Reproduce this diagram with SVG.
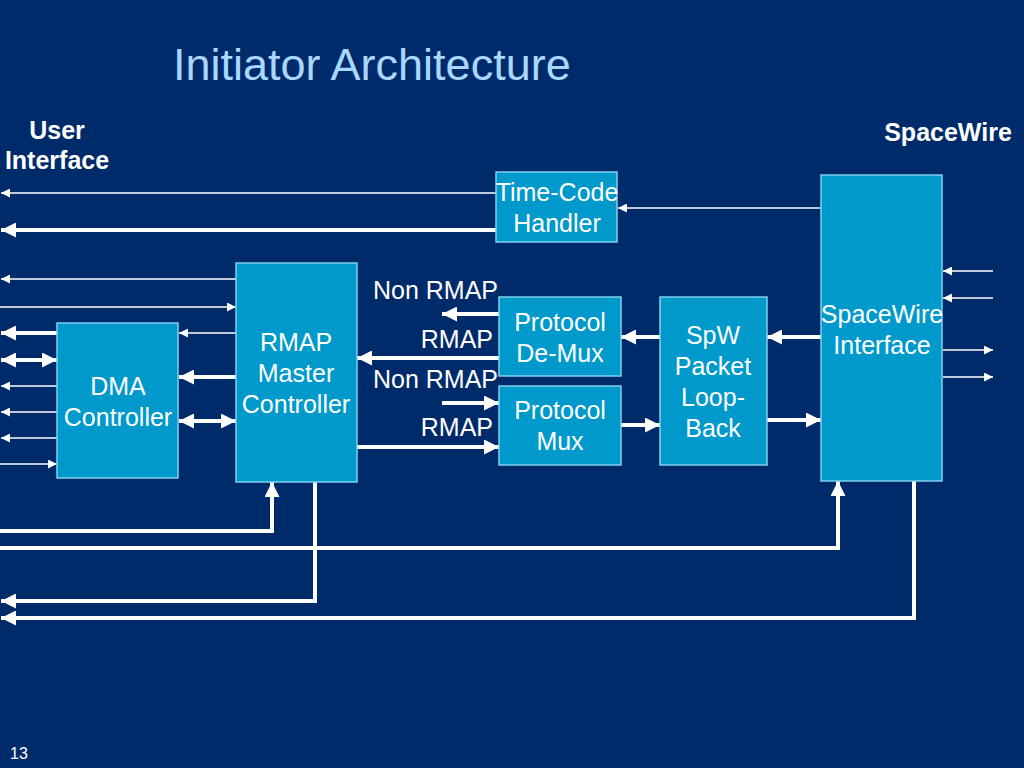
<svg xmlns="http://www.w3.org/2000/svg" width="1024" height="768" viewBox="0 0 1024 768">
<defs>
<style>
.bg{fill:#002B6B}
.box{fill:#0099CC;stroke:#7FD0F0;stroke-width:1.5}
.bt{font-family:"Liberation Sans",Arial,sans-serif;font-size:25px;fill:#FFFFFF;text-anchor:middle}
.lb{font-family:"Liberation Sans",Arial,sans-serif;font-size:25px;fill:#FFFFFF;text-anchor:end}
.hd{font-family:"Liberation Sans",Arial,sans-serif;font-size:25px;font-weight:bold;fill:#FFFFFF;text-anchor:middle}
.thin{stroke:#FFFFFF;stroke-width:1.5;fill:none}
.thick{stroke:#FFFFFF;stroke-width:4;fill:none}
</style>
<marker id="a" viewBox="0 0 10 10" refX="10" refY="5" markerWidth="10" markerHeight="9" markerUnits="userSpaceOnUse" orient="auto-start-reverse"><path d="M0,0 L10,5 L0,10 z" fill="#FFFFFF"/></marker>
<marker id="A" viewBox="0 0 10 10" refX="10" refY="5" markerWidth="15" markerHeight="15" markerUnits="userSpaceOnUse" orient="auto-start-reverse"><path d="M0,0 L10,5 L0,10 z" fill="#FFFFFF"/></marker>
</defs>
<rect class="bg" x="0" y="0" width="1024" height="768"/>
<text x="173" y="80" font-family="'Liberation Sans',Arial,sans-serif" font-size="45" fill="#A8D8FF">Initiator Architecture</text>
<text class="hd" x="57" y="139">User</text>
<text class="hd" x="57" y="169">Interface</text>
<text class="hd" x="948" y="141">SpaceWire</text>
<text x="10" y="759" font-family="'Liberation Sans',Arial,sans-serif" font-size="16" fill="#FFFFFF">13</text>

<g id="connectors">
<line class="thin" x1="496" y1="193" x2="1" y2="193" marker-end="url(#a)"/>
<line class="thick" x1="496" y1="230" x2="1" y2="230" marker-end="url(#A)"/>
<line class="thin" x1="821" y1="208" x2="618" y2="208" marker-end="url(#a)"/>
<line class="thin" x1="236" y1="279" x2="1" y2="279" marker-end="url(#a)"/>
<line class="thin" x1="0" y1="307" x2="236" y2="307" marker-end="url(#a)"/>
<line class="thick" x1="57" y1="333" x2="1" y2="333" marker-end="url(#A)"/>
<line class="thick" x1="1" y1="360" x2="57" y2="360" marker-start="url(#A)" marker-end="url(#A)"/>
<line class="thin" x1="57" y1="386" x2="1" y2="386" marker-end="url(#a)"/>
<line class="thin" x1="57" y1="412" x2="1" y2="412" marker-end="url(#a)"/>
<line class="thin" x1="57" y1="438" x2="1" y2="438" marker-end="url(#a)"/>
<line class="thin" x1="0" y1="464" x2="57" y2="464" marker-end="url(#a)"/>
<line class="thin" x1="236" y1="333" x2="179" y2="333" marker-end="url(#a)"/>
<line class="thick" x1="236" y1="377" x2="179" y2="377" marker-end="url(#A)"/>
<line class="thick" x1="179" y1="421" x2="236" y2="421" marker-start="url(#A)" marker-end="url(#A)"/>
<line class="thick" x1="499" y1="314" x2="442" y2="314" marker-end="url(#A)"/>
<line class="thick" x1="499" y1="358" x2="357" y2="358" marker-end="url(#A)"/>
<line class="thick" x1="442" y1="403" x2="499" y2="403" marker-end="url(#A)"/>
<line class="thick" x1="357" y1="447" x2="499" y2="447" marker-end="url(#A)"/>
<line class="thick" x1="660" y1="337" x2="621" y2="337" marker-end="url(#A)"/>
<line class="thick" x1="821" y1="337" x2="767" y2="337" marker-end="url(#A)"/>
<line class="thick" x1="621" y1="425" x2="660" y2="425" marker-end="url(#A)"/>
<line class="thick" x1="767" y1="420" x2="821" y2="420" marker-end="url(#A)"/>
<line class="thin" x1="993" y1="271" x2="943" y2="271" marker-end="url(#a)"/>
<line class="thin" x1="993" y1="298" x2="943" y2="298" marker-end="url(#a)"/>
<line class="thin" x1="943" y1="350" x2="993" y2="350" marker-end="url(#a)"/>
<line class="thin" x1="943" y1="377" x2="993" y2="377" marker-end="url(#a)"/>
<polyline class="thick" points="0,531 272,531 272,482" marker-end="url(#A)"/>
<polyline class="thick" points="0,548 838,548 838,481" marker-end="url(#A)"/>
<polyline class="thick" points="315,482 315,601 1,601" marker-end="url(#A)"/>
<polyline class="thick" points="914,481 914,618 1,618" marker-end="url(#A)"/>
<text class="lb" x="498" y="299">Non RMAP</text>
<text class="lb" x="493" y="348">RMAP</text>
<text class="lb" x="498" y="388">Non RMAP</text>
<text class="lb" x="493" y="436">RMAP</text>
</g>

<g id="timecode">
<rect class="box" x="496" y="172" width="121" height="70"/>
<text class="bt" x="557" y="201">Time-Code</text>
<text class="bt" x="557" y="232">Handler</text>
</g>
<g id="spacewire">
<rect class="box" x="821" y="175" width="121" height="306"/>
<text class="bt" x="882" y="323">SpaceWire</text>
<text class="bt" x="882" y="354">Interface</text>
</g>
<g id="rmap">
<rect class="box" x="236" y="263" width="121" height="219"/>
<text class="bt" x="296" y="351">RMAP</text>
<text class="bt" x="296" y="382">Master</text>
<text class="bt" x="296" y="413">Controller</text>
</g>
<g id="dma">
<rect class="box" x="57" y="323" width="121" height="155"/>
<text class="bt" x="118" y="395">DMA</text>
<text class="bt" x="118" y="426">Controller</text>
</g>
<g id="demux">
<rect class="box" x="499" y="297" width="122" height="79"/>
<text class="bt" x="560" y="331">Protocol</text>
<text class="bt" x="560" y="362">De-Mux</text>
</g>
<g id="mux">
<rect class="box" x="499" y="386" width="122" height="79"/>
<text class="bt" x="560" y="419">Protocol</text>
<text class="bt" x="560" y="450">Mux</text>
</g>
<g id="loopback">
<rect class="box" x="660" y="297" width="107" height="168"/>
<text class="bt" x="713" y="344">SpW</text>
<text class="bt" x="713" y="375">Packet</text>
<text class="bt" x="713" y="406">Loop-</text>
<text class="bt" x="713" y="437">Back</text>
</g>
</svg>
